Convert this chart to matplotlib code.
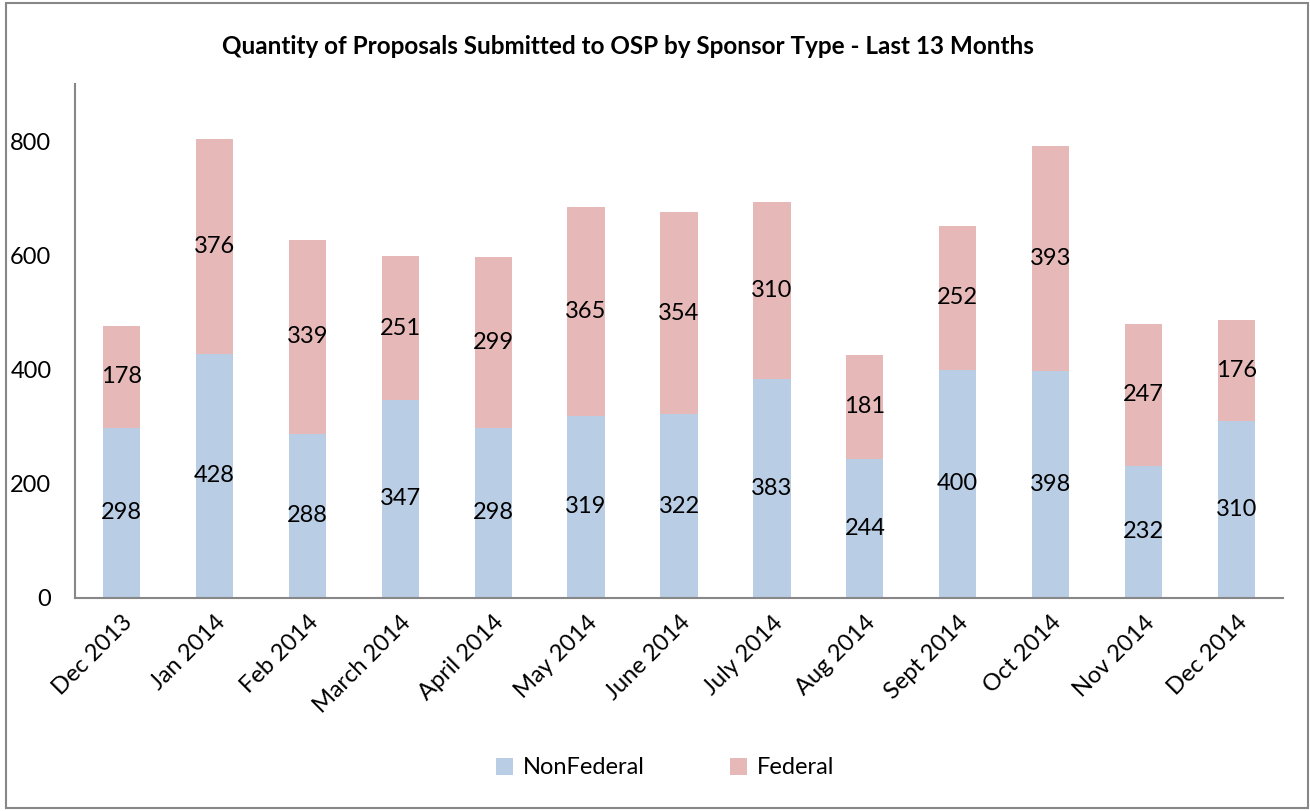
import matplotlib
matplotlib.use("Agg")
import matplotlib.pyplot as plt
from matplotlib.patches import Rectangle
import numpy as np

plt.rcParams['font.family'] = ['Lato', 'DejaVu Sans']

months = ["Dec 2013", "Jan 2014", "Feb 2014", "March 2014", "April 2014", "May 2014",
          "June 2014", "July 2014", "Aug 2014", "Sept 2014", "Oct 2014", "Nov 2014", "Dec 2014"]
nonfederal = [298, 428, 288, 347, 298, 319, 322, 383, 244, 400, 398, 232, 310]
federal = [178, 376, 339, 251, 299, 365, 354, 310, 181, 252, 393, 247, 176]
yticks = [0, 200, 400, 600, 800]

c_nonfed = "#B9CDE5"
c_fed = "#E6B9B8"
grey = "#878787"

fig = plt.figure(figsize=(13.1, 8.11), dpi=100)
ax = fig.add_axes([75/1310, 1 - 598/811, (1283-75)/1310, (598-84)/811])

x = np.arange(len(months))
w = 0.4
b1 = ax.bar(x, nonfederal, w, color=c_nonfed, label="NonFederal")
b2 = ax.bar(x, federal, w, bottom=nonfederal, color=c_fed, label="Federal")

for i in range(len(months)):
    ax.text(x[i], nonfederal[i] / 2, str(nonfederal[i]), ha="center", va="center", fontsize=17)
    ax.text(x[i], nonfederal[i] + federal[i] / 2, str(federal[i]), ha="center", va="center", fontsize=17)

ax.set_xlim(-0.5, len(months) - 0.5)
ax.set_ylim(0, 900)
ax.set_yticks(yticks)
ax.set_yticklabels([str(v) for v in yticks], fontsize=17)
ax.tick_params(axis="y", length=0, pad=17)
ax.set_xticks(x)
ax.set_xticklabels(months, rotation=45, ha="right", rotation_mode="anchor", fontsize=17)
ax.tick_params(axis="x", length=0, pad=10)

for s in ["top", "right"]:
    ax.spines[s].set_visible(False)
for s in ["left", "bottom"]:
    ax.spines[s].set_color(grey)
    ax.spines[s].set_linewidth(1.5)

fig.text(628/1310, 1 - 47/811, "Quantity of Proposals Submitted to OSP by Sponsor Type - Last 13 Months",
         ha="center", va="center", fontsize=17.5, fontweight="bold")

fig.legend(handles=[b1, b2], loc="center", bbox_to_anchor=(665/1310, 1 - 768/811), ncol=2,
           frameon=False, fontsize=17, handlelength=0.75, handleheight=0.75, columnspacing=3.6,
           handletextpad=0.4)

fig.patches.append(Rectangle((6/1310, 3/811), 1302/1310, 805/811, transform=fig.transFigure,
                             fill=False, edgecolor=grey, linewidth=1.5))

fig.savefig("out.png", dpi=100)
